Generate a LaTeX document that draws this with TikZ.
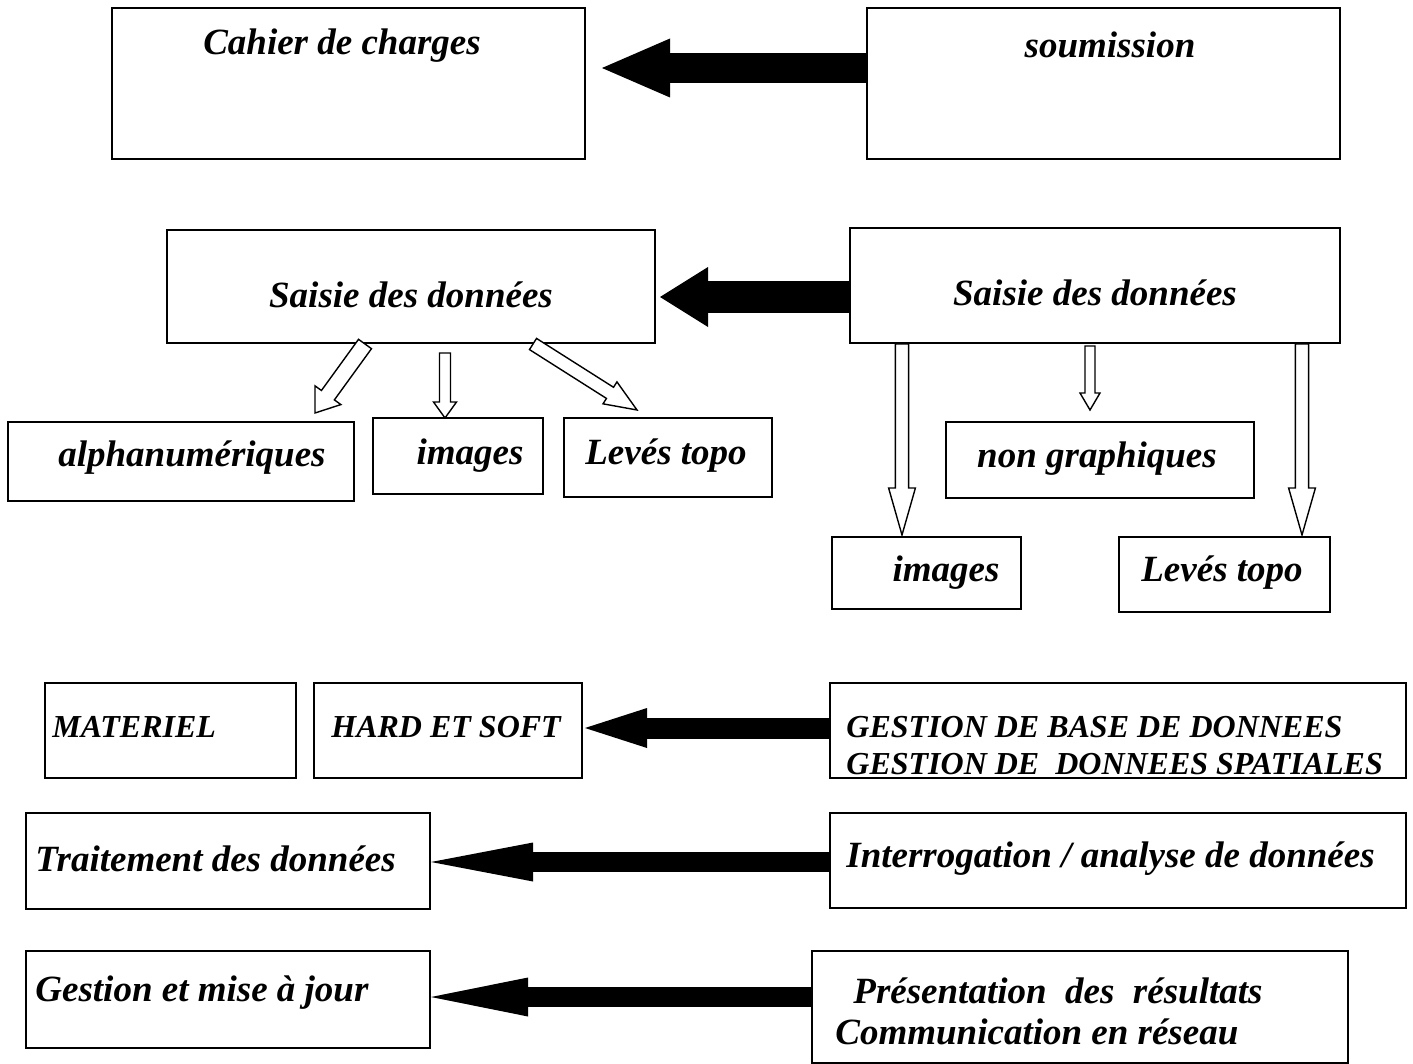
\documentclass[tikz,border=0pt]{standalone}
\usepackage{fontspec}
\setmainfont{Liberation Serif}
\usetikzlibrary{arrows.meta,calc,fit}

\tikzset{
  box/.style={draw, line width=1pt, inner sep=0pt},
  txt/.style={inner sep=0pt, font=\fontsize{18.5}{22}\selectfont\bfseries\itshape},
  txtl/.style={txt, anchor=west},
  caps/.style={txtl, font=\fontsize{16}{19}\selectfont\bfseries\itshape},
  bigarr/.style n args={3}{line width=#1, -{Triangle[length=#2, width=#3, line width=0pt]}},
  hollow/.style={draw, fill=white, line width=0.7pt, line join=miter}
}

% open arrow: from #1 to #2, half shaft #3, half head #4, head length #5
\newcommand\hollowarrow[5]{%
  \coordinate (hb) at ($(#2)!#5!(#1)$);
  \draw[hollow] ($(#1)!#3!90:(#2)$) -- ($(hb)!#3!90:(#2)$) -- ($(hb)!#4!90:(#2)$) -- (#2)
     -- ($(hb)!#4!-90:(#2)$) -- ($(hb)!#3!-90:(#2)$) -- ($(#1)!#3!-90:(#2)$) -- cycle;}

\begin{document}
\begin{tikzpicture}[x=0.5pt, y=-0.5pt]
    \useasboundingbox (0,0) rectangle (1413,1064);
    % boxes
    \node[box, fit={(112,8) (585,159)}] (cahier) {};
    \node[box, fit={(867,8) (1340,159)}] (soum) {};
    \node[box, fit={(167,230) (655,343)}] (sgL) {};
    \node[box, fit={(850,228) (1340,343)}] (sgR) {};
    \node[box, fit={(8,422) (354,501)}] (alpha) {};
    \node[box, fit={(373,418) (543,494)}] (imgL) {};
    \node[box, fit={(564,418) (772,497)}] (levL) {};
    \node[box, fit={(946,422) (1254,498)}] (nongr) {};
    \node[box, fit={(832,537) (1021,609)}] (imgR) {};
    \node[box, fit={(1119,537) (1330,612)}] (levR) {};
    \node[box, fit={(45,683) (296,778)}] (mat) {};
    \node[box, fit={(314,683) (582,778)}] (hard) {};
    \node[box, fit={(830,683) (1406,778)}] (gest) {};
    \node[box, fit={(26,813) (430,909)}] (trait) {};
    \node[box, fit={(830,813) (1406,908)}] (inter) {};
    \node[box, fit={(26,951) (430,1048)}] (gmaj) {};
    \node[box, fit={(812,951) (1348,1063)}] (pres) {};

    % texts
    \node[txt] (cahier-t) at (342,46) {Cahier de charges};
    \node[txt] (soum-t) at (1110,45) {soumission};
    \node[txt] (sgL-t) at (411,295) {Saisie des données};
    \node[txt] (sgR-t) at (1095,293) {Saisie des données};
    \node[txt] (alpha-t) at (192,458) {alphanumériques};
    \node[txt] (imgL-t) at (470,456) {images};
    \node[txt] (levL-t) at (666,456) {Levés topo};
    \node[txt] (nongr-t) at (1097,459) {non graphiques};
    \node[txt] (imgR-t) at (946,573) {images};
    \node[txt] (levR-t) at (1222,573) {Levés topo};
    \node[caps] (mat-t) at (52,727) {MATERIEL};
    \node[caps] (hard-t) at (331,727) {HARD ET SOFT};
    \node[caps] (gest-t1) at (846,727) {GESTION DE BASE DE DONNEES};
    \node[caps] (gest-t2) at (846,764) {GESTION DE\ \ DONNEES SPATIALES};
    \node[txtl] (trait-t) at (35,859) {Traitement des données};
    \node[txtl] (inter-t) at (846,859) {Interrogation / analyse de données};
    \node[txtl] (gmaj-t) at (35,993) {Gestion et mise à jour};
    \node[txtl] (pres-t1) at (853,991) {Présentation\ \ des\ \ résultats};
    \node[txtl] (pres-t2) at (835,1032) {Communication en réseau};

    % black arrows
    \coordinate (a1) at (602,68);
    \coordinate (a2) at (660,297);
    \coordinate (a3) at (585,728);
    \coordinate (a4) at (431,862);
    \coordinate (a5) at (431,997);
    \draw[bigarr={15pt}{34pt}{29.5pt}] (soum.west |- a1) -- (a1);
    \draw[bigarr={16pt}{24pt}{30pt}] (sgR.west |- a2) -- (a2);
    \draw[bigarr={10.5pt}{31pt}{20pt}] (gest.west |- a3) -- (a3);
    \draw[bigarr={10pt}{51pt}{19.5pt}] (inter.west |- a4) -- (a4);
    \draw[bigarr={10pt}{48.5pt}{19.5pt}] (pres.west |- a5) -- (a5);

    % open arrows
    \coordinate (h1a) at (sgL.south -| 365,0);  \coordinate (h1b) at (315,413);
    \coordinate (h2a) at (445,353);             \coordinate (h2b) at (445,418);
    \coordinate (h3a) at (sgL.south -| 533,0);  \coordinate (h3b) at (637,410);
    \coordinate (h4a) at (sgR.south -| 902,0);  \coordinate (h4b) at (902,535);
    \coordinate (h5a) at (1090,346);            \coordinate (h5b) at (1090,410);
    \coordinate (h6a) at (sgR.south -| 1302,0); \coordinate (h6b) at (1302,535);
    \hollowarrow{h1a}{h1b}{4pt}{8pt}{11pt}
    \hollowarrow{h2a}{h2b}{2.75pt}{5.75pt}{8pt}
    \hollowarrow{h3a}{h3b}{3.3pt}{6.5pt}{16pt}
    \hollowarrow{h4a}{h4b}{3.3pt}{6.7pt}{23.5pt}
    \hollowarrow{h5a}{h5b}{2.5pt}{5pt}{8.5pt}
    \hollowarrow{h6a}{h6b}{3.3pt}{6.7pt}{23.5pt}
\end{tikzpicture}
\end{document}
